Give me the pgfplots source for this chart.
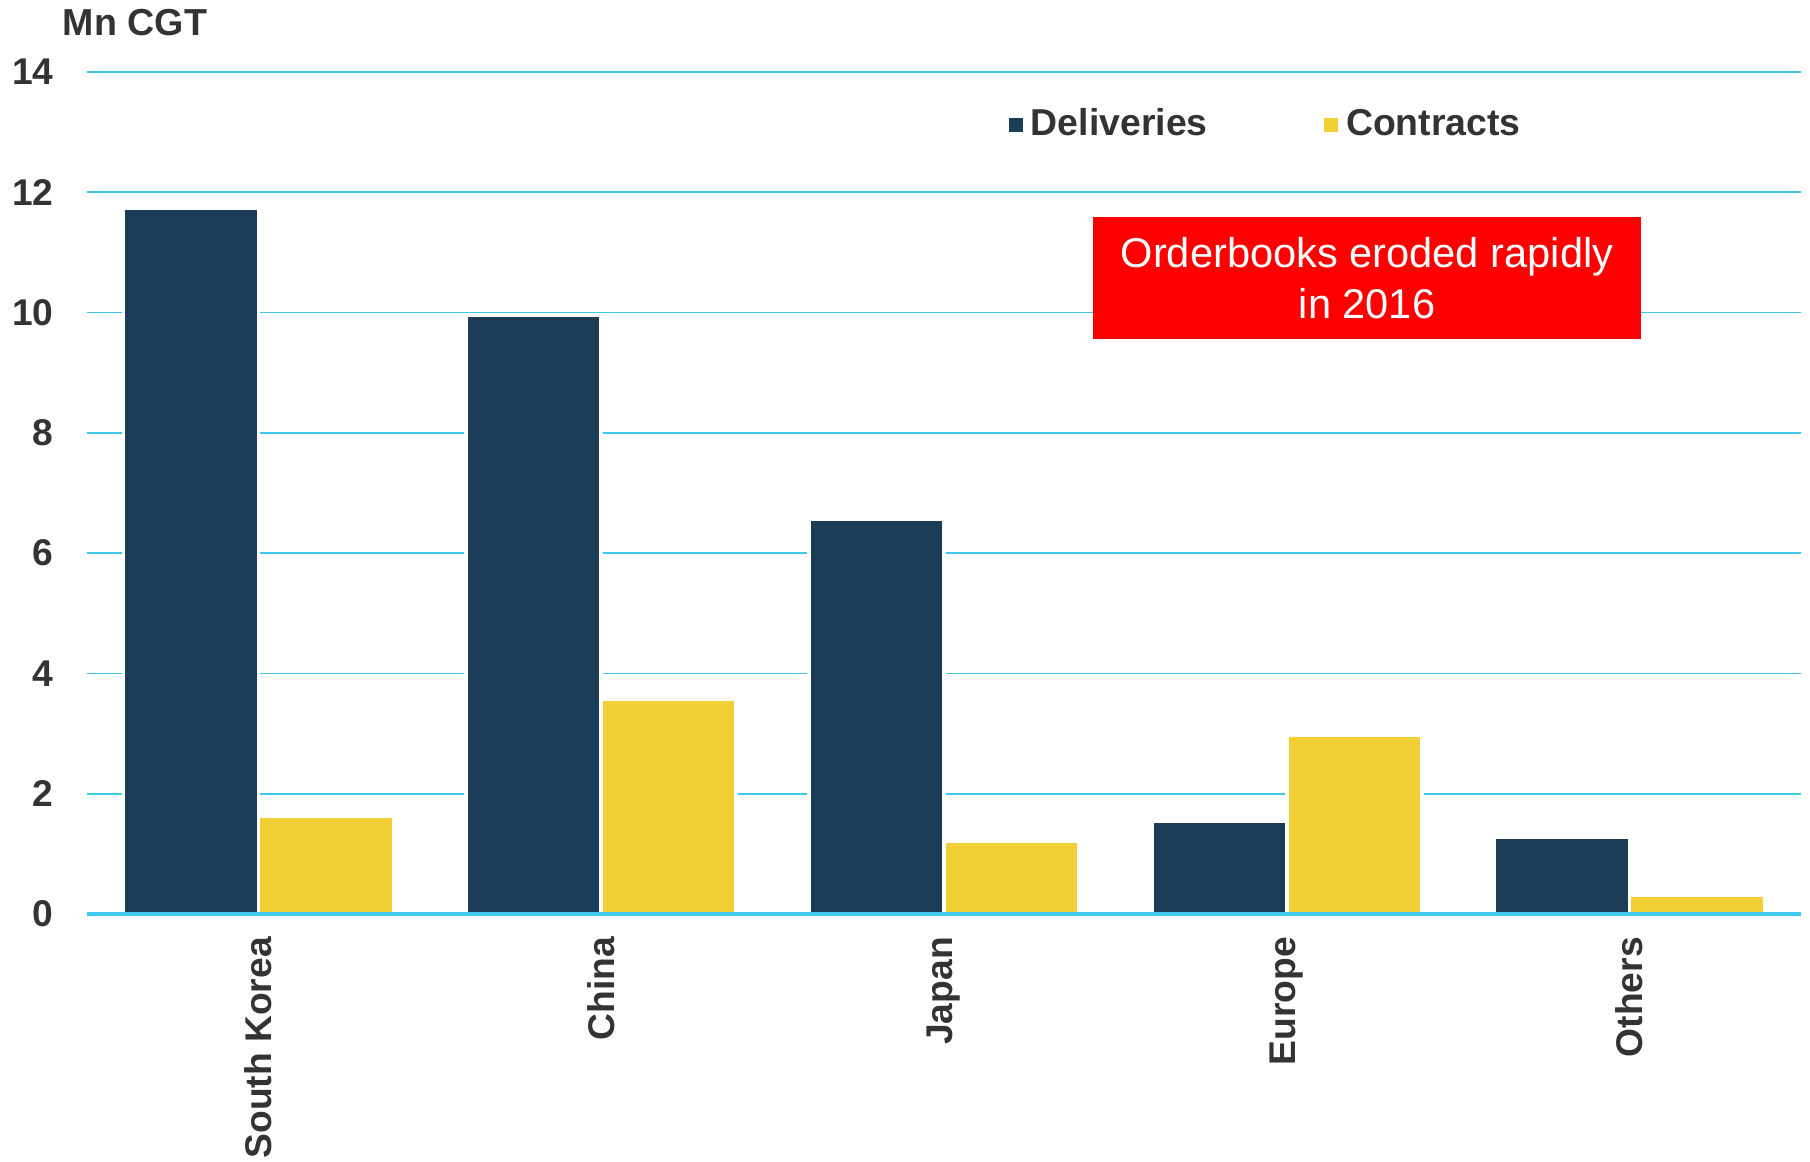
\documentclass[border=0pt]{standalone}
\usepackage{pgfplots}
\pgfplotsset{compat=1.18}
\usepackage{fontspec}
\setmainfont{Liberation Sans}
\definecolor{navy}{HTML}{1B3C57}
\definecolor{ylw}{HTML}{F0D034}
\definecolor{gridc}{HTML}{3FC8EC}
\definecolor{txt}{HTML}{333333}
\begin{document}
\begin{tikzpicture}
\begin{axis}[
  width=428.5pt, height=210.5pt, scale only axis,
  ybar=0pt, bar width=0.394,
  xmin=-0.5, xmax=4.5, ymin=0, ymax=14,
  xtick={0,1,2,3,4},
  xticklabels={South Korea,China,Japan,Europe,Others},
  ytick={0,2,...,14},
  axis x line*=bottom, axis y line*=left,
  y axis line style={draw=none},
  x axis line style={draw=gridc, line width=1pt},
  major tick length=0pt,
  ymajorgrids, grid style={gridc, line width=0.45pt},
  /pgf/number format/assume math mode=true,
  tick label style={font=\fontsize{9.3}{11}\selectfont\bfseries, text=txt},
  xticklabel style={rotate=90, anchor=east, inner sep=0pt, xshift=-5.6pt},
  yticklabel style={inner sep=0pt, xshift=-8.2pt},
  clip=false,
  legend style={draw=none, fill=none, at={(rel axis cs:0.5302,0.937)}, anchor=west,
    legend columns=2, font=\fontsize{9.35}{11}\selectfont\bfseries, text=txt,
    /tikz/every even column/.append style={column sep=27pt}},
  legend image code/.code={\fill[#1,draw=none] (0pt,-1.8pt) rectangle (3.6pt,1.8pt);},
]
\addplot[fill=navy, draw=white, line width=0.9pt] coordinates {(0,11.74) (1,9.95) (2,6.56) (3,1.55) (4,1.28)};
\addplot[fill=ylw, draw=white, line width=0.9pt] coordinates {(0,1.63) (1,3.57) (2,1.21) (3,2.97) (4,0.31)};
\legend{Deliveries,Contracts}
\draw[gridc, line width=1pt] (rel axis cs:0,0) -- (rel axis cs:1,0);
\node[fill=red, text=white, align=center, minimum width=137pt, minimum height=30.5pt,
  font=\fontsize{10.4}{12.7}\selectfont, inner sep=0pt] at (axis cs:3.234,10.57) {Orderbooks eroded rapidly\\in 2016};
\node[anchor=base west, inner sep=0pt, font=\fontsize{9.4}{11}\selectfont\bfseries, text=txt] at (rel axis cs:-0.0145,1) [yshift=9.15pt] {Mn CGT};
\path (rel axis cs:-0.05076,-0.2945) rectangle (rel axis cs:1.00525,1.0855);
\end{axis}
\end{tikzpicture}
\end{document}
